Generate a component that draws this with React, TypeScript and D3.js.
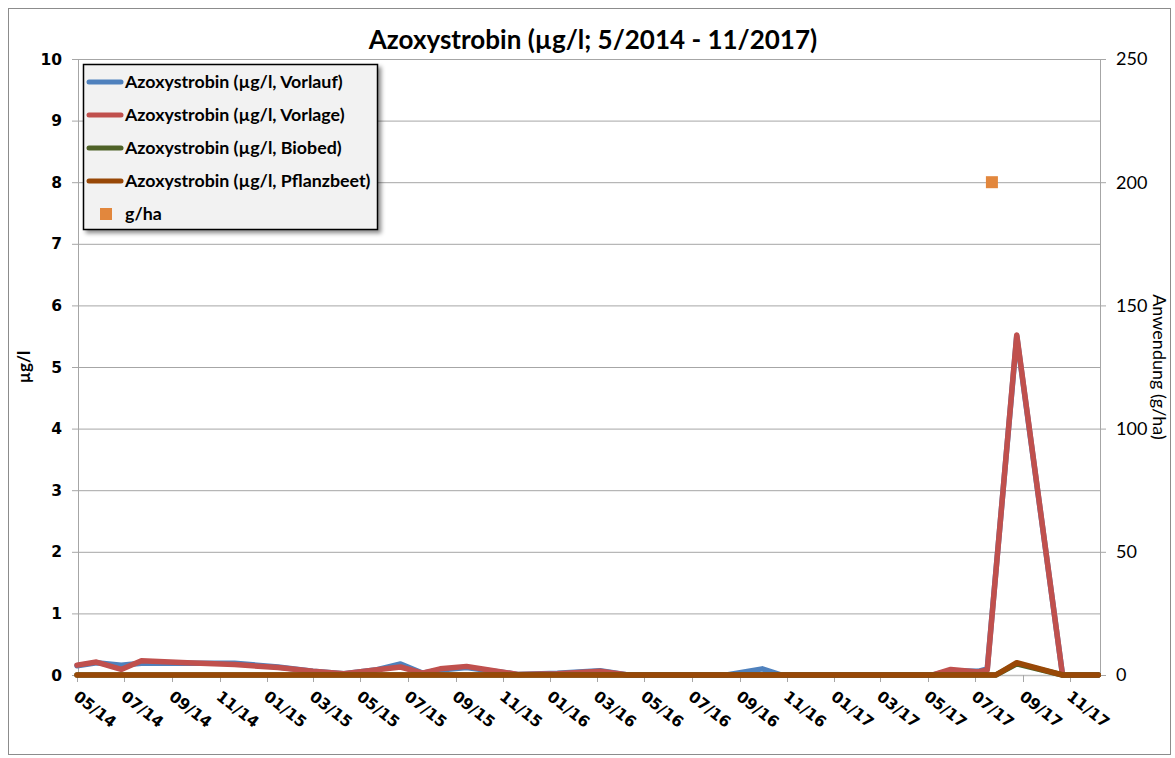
import * as d3 from "d3";
import React, { useRef, useEffect } from "react";

// sample dates and measured values (µg/l), null = no value for that series
const sampleDates = [
  "2014-05-01", "2014-05-26", "2014-06-27", "2014-07-23", "2014-09-20", "2014-11-20",
  "2015-01-15", "2015-03-01", "2015-04-10", "2015-05-20", "2015-06-22", "2015-07-20",
  "2015-08-12", "2015-09-15", "2015-10-20", "2015-11-20", "2016-01-10", "2016-03-05",
  "2016-04-10", "2016-06-15", "2016-08-15", "2016-09-30", "2016-10-25", "2016-12-20",
  "2017-02-20", "2017-05-08", "2017-05-31", "2017-07-05", "2017-07-17", "2017-07-28",
  "2017-08-24", "2017-10-22", "2017-12-07",
];
const vorlauf = [
  0.15, 0.2, 0.16, 0.19, 0.19, 0.19, 0.13, 0.06, 0.02, 0.08, 0.18, 0.03,
  0.08, 0.12, 0.06, 0.01, 0.03, 0.07, 0, 0, 0, 0.1, 0, 0,
  0, 0, 0.07, 0.06, 0.1, null, 5.5, 0, 0,
];
const vorlage = [
  0.16, 0.21, 0.09, 0.23, 0.2, 0.17, 0.12, 0.06, 0.02, 0.08, 0.13, 0.03,
  0.1, 0.14, 0.07, 0.01, 0.02, 0.06, 0, 0, 0, 0, 0, 0,
  0, 0, 0.09, 0.05, 0.08, null, 5.52, 0, 0,
];
const biobed = [
  0, 0, 0, 0, 0, 0, 0, 0, 0, 0, 0, 0,
  0, 0, 0, 0, 0, 0, 0, 0, 0, 0, 0, 0,
  0, 0, 0, 0, 0, 0, 0.18, 0, 0,
];
const pflanzbeet = [
  0, 0, 0, 0, 0, 0, 0, 0, 0, 0, 0, 0,
  0, 0, 0, 0, 0, 0, 0, 0, 0, 0, 0, 0,
  0, 0, 0, 0, 0, 0, 0.2, 0, 0,
];
// application (g/ha, right axis)
const applicationDates = ["2017-07-23"];
const applicationRates = [200];

const seriesNames = [
  "Azoxystrobin (µg/l, Vorlauf)",
  "Azoxystrobin (µg/l, Vorlage)",
  "Azoxystrobin (µg/l, Biobed)",
  "Azoxystrobin (µg/l, Pflanzbeet)",
];
const seriesColors = ["#4f81bd", "#c0504d", "#4f6228", "#984807"];
const leftTicks = [0, 1, 2, 3, 4, 5, 6, 7, 8, 9, 10];
const rightTicks = [0, 50, 100, 150, 200, 250];

const W = 1175;
const H = 758;

function AzoxyChart() {
  const ref = useRef<SVGSVGElement>(null);

  useEffect(() => {
    const svg = d3.select(ref.current);
    svg.selectAll("*").remove();
    const parse = d3.timeParse("%Y-%m-%d");
    const dates = sampleDates.map((d) => parse(d) as Date);

    const plotL = 78, plotR = 1100, plotT = 59, plotB = 675;

    const x = d3.scaleTime()
      .domain([parse("2014-05-01") as Date, parse("2017-12-08") as Date])
      .range([77, 1099]);
    const y = d3.scaleLinear().domain([0, 10]).range([plotB, plotT]);
    const y2 = d3.scaleLinear().domain([0, 250]).range([plotB, plotT]);

    const grid = "#a6a6a6";

    // frame
    svg.append("rect")
      .attr("x", 8.5).attr("y", 8.5)
      .attr("width", 1162).attr("height", 746)
      .attr("fill", "white").attr("stroke", "#8c8c8c");

    // title
    svg.append("text")
      .attr("x", 593).attr("y", 49)
      .attr("text-anchor", "middle")
      .attr("font-family", "Lato, sans-serif")
      .attr("font-weight", "bold")
      .attr("font-size", 26)
      .text("Azoxystrobin (µg/l; 5/2014 - 11/2017)");

    // horizontal grid lines
    svg.append("g").selectAll("line").data(leftTicks.slice(1)).enter().append("line")
      .attr("x1", plotL).attr("x2", plotR)
      .attr("y1", (d) => y(d) + 0.5).attr("y2", (d) => y(d) + 0.5)
      .attr("stroke", grid).attr("stroke-width", 1);

    // left axis
    const la = svg.append("g");
    la.append("line").attr("x1", plotL + 0.5).attr("x2", plotL + 0.5)
      .attr("y1", plotT).attr("y2", plotB + 0.5).attr("stroke", grid);
    la.selectAll("line.t").data(leftTicks).enter().append("line")
      .attr("class", "t")
      .attr("x1", plotL - 6).attr("x2", plotL)
      .attr("y1", (d) => y(d) + 0.5).attr("y2", (d) => y(d) + 0.5)
      .attr("stroke", grid);
    la.selectAll("text").data(leftTicks).enter().append("text")
      .attr("x", 62).attr("y", (d) => y(d))
      .attr("dy", "0.36em")
      .attr("text-anchor", "end")
      .attr("font-family", "DejaVu Sans, sans-serif")
      .attr("font-weight", "bold")
      .attr("font-size", 15.5)
      .text((d) => d);
    svg.append("text")
      .attr("transform", "translate(30," + (plotT + plotB) / 2 + ") rotate(-90)")
      .attr("text-anchor", "middle")
      .attr("font-family", "Lato, sans-serif")
      .attr("font-weight", "bold")
      .attr("font-size", 17)
      .text("µg/l");

    // right axis
    const ra = svg.append("g");
    ra.append("line").attr("x1", plotR + 0.5).attr("x2", plotR + 0.5)
      .attr("y1", plotT).attr("y2", plotB + 0.5).attr("stroke", grid);
    ra.selectAll("line.t").data(rightTicks).enter().append("line")
      .attr("class", "t")
      .attr("x1", plotR).attr("x2", plotR + 6)
      .attr("y1", (d) => y2(d) + 0.5).attr("y2", (d) => y2(d) + 0.5)
      .attr("stroke", grid);
    ra.selectAll("text").data(rightTicks).enter().append("text")
      .attr("x", 1116).attr("y", (d) => y2(d))
      .attr("dy", "0.36em")
      .attr("font-family", "Lato, sans-serif")
      .attr("font-size", 18)
      .text((d) => d);
    svg.append("text")
      .attr("transform", "translate(1153," + (plotT + plotB) / 2 + ") rotate(90)")
      .attr("text-anchor", "middle")
      .attr("font-family", "Lato, sans-serif")
      .attr("font-size", 18)
      .text("Anwendung (g/ha)");

    // bottom axis
    const xTicks = x.ticks(d3.timeMonth.every(2) as d3.TimeInterval);
    const fmt = d3.timeFormat("%m/%y");
    const ba = svg.append("g");
    ba.append("line").attr("x1", plotL).attr("x2", plotR)
      .attr("y1", plotB + 0.5).attr("y2", plotB + 0.5).attr("stroke", "#bfbfbf")
      .attr("stroke-width", 1.5);
    ba.selectAll("line.t").data(xTicks).enter().append("line")
      .attr("class", "t")
      .attr("x1", (d) => Math.round(x(d)) + 0.5).attr("x2", (d) => Math.round(x(d)) + 0.5)
      .attr("y1", plotB).attr("y2", plotB + 7)
      .attr("stroke", grid);
    ba.selectAll("text").data(xTicks).enter().append("text")
      .attr("transform", (d) => "translate(" + (x(d) - 1) + "," + (plotB + 19) + ") rotate(38)")
      .attr("dy", "0.36em")
      .attr("font-family", "DejaVu Sans, sans-serif")
      .attr("font-weight", "bold")
      .attr("font-size", 15.5)
      .text((d) => fmt(d));

    // series lines
    const allSeries = [vorlauf, vorlage, biobed, pflanzbeet];
    const line = d3.line<[Date, number]>()
      .x((d) => x(d[0]))
      .y((d) => y(d[1]));
    allSeries.forEach((vals, i) => {
      const pts: [Date, number][] = [];
      vals.forEach((v, j) => {
        if (v !== null) pts.push([dates[j], v as number]);
      });
      svg.append("path")
        .attr("d", line(pts) as string)
        .attr("fill", "none")
        .attr("stroke", seriesColors[i])
        .attr("stroke-width", 5.5)
        .attr("stroke-linejoin", "round")
        .attr("stroke-linecap", "round");
    });

    // application markers
    svg.append("g").selectAll("rect").data(applicationDates).enter().append("rect")
      .attr("x", (d) => x(parse(d) as Date) - 6)
      .attr("y", (d, i) => y2(applicationRates[i]) - 6)
      .attr("width", 12).attr("height", 12)
      .attr("fill", "#e2873d");

    // legend
    const defs = svg.append("defs");
    const f = defs.append("filter").attr("id", "shadow")
      .attr("x", "-10%").attr("y", "-10%").attr("width", "130%").attr("height", "130%");
    f.append("feDropShadow").attr("dx", 3).attr("dy", 3)
      .attr("stdDeviation", 2).attr("flood-color", "#000").attr("flood-opacity", 0.45);

    const lg = svg.append("g");
    lg.append("rect")
      .attr("x", 83.5).attr("y", 64.5)
      .attr("width", 294).attr("height", 165)
      .attr("fill", "#f2f2f2").attr("stroke", "#000").attr("stroke-width", 1.5)
      .attr("filter", "url(#shadow)");
    const rowY = d3.scaleLinear().domain([0, 4]).range([82, 214]);
    seriesNames.forEach((name, i) => {
      lg.append("line")
        .attr("x1", 89).attr("x2", 121)
        .attr("y1", rowY(i)).attr("y2", rowY(i))
        .attr("stroke", seriesColors[i]).attr("stroke-width", 5)
        .attr("stroke-linecap", "round");
      lg.append("text")
        .attr("x", 125).attr("y", rowY(i))
        .attr("dy", "0.36em")
        .attr("font-family", "Lato, sans-serif")
        .attr("font-weight", "bold")
        .attr("font-size", 17.8)
        .text(name);
    });
    lg.append("rect")
      .attr("x", 100).attr("y", rowY(4) - 6)
      .attr("width", 12).attr("height", 12)
      .attr("fill", "#e2873d");
    lg.append("text")
      .attr("x", 125).attr("y", rowY(4))
      .attr("dy", "0.36em")
      .attr("font-family", "Lato, sans-serif")
      .attr("font-weight", "bold")
      .attr("font-size", 17.8)
      .text("g/ha");
  }, []);

  return (
    <div style={{ position: "absolute", left: 0, top: 0 }}>
      <svg ref={ref} width={W} height={H} style={{ display: "block" }}></svg>
    </div>
  );
}

export default function App() {
  return <AzoxyChart />;
}
